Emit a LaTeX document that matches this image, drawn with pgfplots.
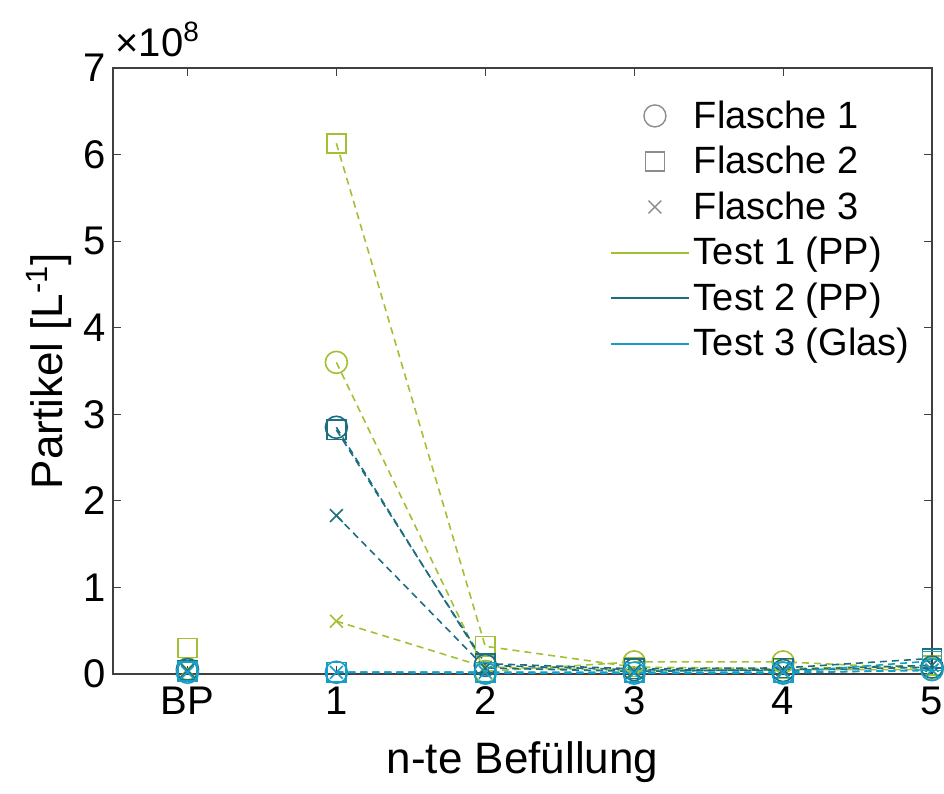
\documentclass[border=0pt]{standalone}
\usepackage{pgfplots}
\pgfplotsset{compat=1.18}
\usepackage{pgfplotstable}
\usepackage{fontspec}
\setmainfont{Liberation Sans}
\definecolor{cA}{RGB}{162,192,52}
\definecolor{cB}{RGB}{28,110,128}
\definecolor{cC}{RGB}{22,158,200}
\definecolor{axgray}{RGB}{64,64,64}
% values in units of 1e8 particles per litre; x: 0 = BP, 1..5 = n-te Befuellung
% row x=0.5 is nan: breaks the line between BP and 1
\pgfplotstableread{
x    aF1   aF2   aF3   bF1   bF2   bF3   cF1   cF2   cF3
0    0.06  0.30  0.05  0.05  0.04  0.04  0.02  0.03  0.02
0.5  nan   nan   nan   nan   nan   nan   nan   nan   nan
1    3.60  6.13  0.61  2.85  2.82  1.83  0.02  0.02  0.02
2    0.03  0.32  0.08  0.10  0.12  0.07  0.01  0.02  0.02
3    0.14  0.08  0.04  0.05  0.06  0.03  0.01  0.02  0.01
4    0.14  0.06  0.05  0.04  0.07  0.05  0.01  0.02  0.02
5    0.06  0.10  0.05  0.08  0.18  0.10  0.05  0.15  0.04
}\data
\begin{document}
\begin{tikzpicture}
\begin{axis}[
  name=ax,
  scale only axis,
  width=409.5pt, height=303pt,
  xmin=-0.5, xmax=5, ymin=0, ymax=7,
  xtick={0,1,2,3,4,5},
  xticklabels={BP,1,2,3,4,5},
  ytick={0,1,2,3,4,5,6,7},
  tick align=inside,
  major tick length=4pt,
  axis line style={axgray, line width=0.6pt},
  tick style={axgray, line width=0.6pt},
  ticklabel style={font=\fontsize{20}{24}\selectfont, text=black},
  xticklabel style={yshift=-3pt},
  /pgf/number format/assume math mode=true,
  scaled ticks=false,
  xlabel={n-te Befüllung},
  ylabel={Partikel [L\textsuperscript{-1}]},
  label style={font=\fontsize{22}{26}\selectfont},
  xlabel style={yshift=-6pt},
  ylabel style={yshift=-1pt},
  unbounded coords=jump,
  legend style={draw=none, fill=none, at={(rel axis cs:0.985,0.96)}, anchor=north east,
    font=\fontsize{19}{22}\selectfont, row sep=3.5pt},
  legend cell align=left,
  clip=false,
]
% Test 1 (PP)
\addplot[cA, dash pattern=on 3.5pt off 2.5pt, line width=0.8pt, mark=o, mark size=5.5pt, mark options={solid, line width=0.8pt}, forget plot] table[x=x,y=aF1]{\data};
\addplot[cA, dash pattern=on 3.5pt off 2.5pt, line width=0.8pt, mark=square, mark size=4.8pt, mark options={solid, line width=0.8pt}, forget plot] table[x=x,y=aF2]{\data};
\addplot[cA, dash pattern=on 3.5pt off 2.5pt, line width=0.8pt, mark=x, mark size=4.5pt, mark options={solid, line width=0.8pt}, forget plot] table[x=x,y=aF3]{\data};
% Test 2 (PP)
\addplot[cB, dash pattern=on 3.5pt off 2.5pt, line width=0.8pt, mark=o, mark size=5.5pt, mark options={solid, line width=0.8pt}, forget plot] table[x=x,y=bF1]{\data};
\addplot[cB, dash pattern=on 3.5pt off 2.5pt, line width=0.8pt, mark=square, mark size=4.8pt, mark options={solid, line width=0.8pt}, forget plot] table[x=x,y=bF2]{\data};
\addplot[cB, dash pattern=on 3.5pt off 2.5pt, line width=0.8pt, mark=x, mark size=4.5pt, mark options={solid, line width=0.8pt}, forget plot] table[x=x,y=bF3]{\data};
% Test 3 (Glas)
\addplot[cC, dash pattern=on 3.5pt off 2.5pt, line width=0.8pt, mark=o, mark size=5.5pt, mark options={solid, line width=0.8pt}, forget plot] table[x=x,y=cF1]{\data};
\addplot[cC, dash pattern=on 3.5pt off 2.5pt, line width=0.8pt, mark=square, mark size=4.8pt, mark options={solid, line width=0.8pt}, forget plot] table[x=x,y=cF2]{\data};
\addplot[cC, dash pattern=on 3.5pt off 2.5pt, line width=0.8pt, mark=x, mark size=4.5pt, mark options={solid, line width=0.8pt}, forget plot] table[x=x,y=cF3]{\data};
% legend
\addlegendimage{legend image code/.code={\draw[gray!90, line width=0.7pt] plot[mark=o, mark size=5.5pt, only marks] coordinates {(22pt,0pt)};}}
\addlegendentry{Flasche 1}
\addlegendimage{legend image code/.code={\draw[gray!90, line width=0.7pt] plot[mark=square, mark size=4.8pt, only marks] coordinates {(22pt,0pt)};}}
\addlegendentry{Flasche 2}
\addlegendimage{legend image code/.code={\draw[gray!90, line width=0.7pt] plot[mark=x, mark size=4.5pt, only marks] coordinates {(22pt,0pt)};}}
\addlegendentry{Flasche 3}
\addlegendimage{legend image code/.code={\draw[cA, line width=1pt] (0pt,0pt) -- (39pt,0pt);}}
\addlegendentry{Test 1 (PP)}
\addlegendimage{legend image code/.code={\draw[cB, line width=1pt] (0pt,0pt) -- (39pt,0pt);}}
\addlegendentry{Test 2 (PP)}
\addlegendimage{legend image code/.code={\draw[cC, line width=1pt] (0pt,0pt) -- (39pt,0pt);}}
\addlegendentry{Test 3 (Glas)}
\node[anchor=base west, font=\fontsize{20}{24}\selectfont, inner sep=0pt] at ([xshift=1pt,yshift=5.5pt]rel axis cs:0,1) {×10\textsuperscript{8}};
\end{axis}
\pgfresetboundingbox
\path[use as bounding box] ([xshift=-56.5pt,yshift=-60pt]ax.south west) rectangle ([xshift=6pt,yshift=34pt]ax.north east);
\end{tikzpicture}
\end{document}
